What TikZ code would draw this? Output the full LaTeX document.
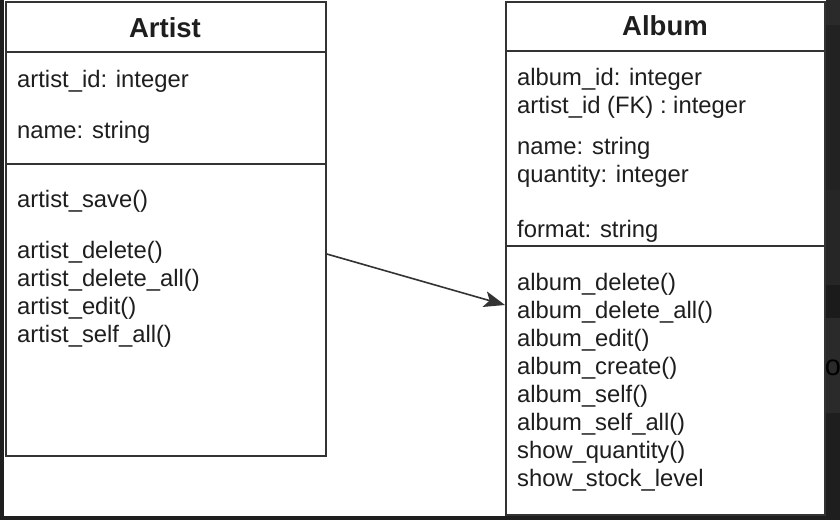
\documentclass[tikz,border=0pt]{standalone}
\usepackage{fontspec}
\setmainfont{Liberation Sans}
\usetikzlibrary{arrows.meta}
\definecolor{bgdark}{HTML}{1E1E1E}
\definecolor{bandA}{HTML}{2A2A2A}
\definecolor{bandB}{HTML}{222222}
\definecolor{bandC}{HTML}{262626}
\definecolor{bandD}{HTML}{1B1B1B}
\definecolor{linec}{HTML}{333333}
\definecolor{txt}{HTML}{1E1E1E}
\begin{document}
\begin{tikzpicture}[x=1pt,y=-1pt,
  boxline/.style={draw=linec, line width=1.8pt},
  umlbox/.style={boxline, fill=white, rectangle, inner sep=0pt, anchor=north west},
  attr/.style={anchor=base west, inner sep=0pt, font=\fontsize{23.8}{28}\selectfont, text=txt},
  ttl/.style={anchor=base, inner sep=0pt, font=\fontsize{27.5}{32}\selectfont\bfseries, text=txt},
  assoc/.style={draw=linec, line width=1.6pt, -{Stealth[length=21pt,width=16pt,inset=5pt]}}
]
\useasboundingbox (0,0) rectangle (840,520);
% screen background
\fill[bgdark] (0,0) rectangle (840,520);
\fill[bandA] (826,0) rectangle (840,25);
\fill[bandB] (826,25) rectangle (840,190);
\fill[bandC] (826,190) rectangle (840,285);
\fill[bandD] (826,285) rectangle (840,318);
\fill[bandA] (826,318) rectangle (840,413);
\node[inner sep=0pt, font=\fontsize{29}{32}\selectfont, text=black] (bgo) at (833,368) {o};
% canvas
\fill[white] (4,0) rectangle (826,516);

% Artist class
\node[umlbox, minimum width=320pt, minimum height=454pt] (artist) at (5,1) {};
\draw[boxline] (artist.west |- 0,52) -- (artist.east |- 0,52);
\draw[boxline] (artist.west |- 0,164) -- (artist.east |- 0,164);
\node[ttl] (artistT) at (165,37.5) {Artist};
\node[attr] (a1) at (17,87.5) {artist\_id: integer};
\node[attr] (a2) at (17,138.5) {name: string};
\node[attr] (m1) at (17,207) {artist\_save()};
\node[attr] (m2) at (17,258.7) {artist\_delete()};
\node[attr] (m3) at (17,286.7) {artist\_delete\_all()};
\node[attr] (m4) at (17,314.7) {artist\_edit()};
\node[attr] (m5) at (17,342.7) {artist\_self\_all()};

% Album class
\node[umlbox, minimum width=319pt, minimum height=513pt] (album) at (505,1) {};
\draw[boxline] (album.west |- 0,51) -- (album.east |- 0,51);
\draw[boxline] (album.west |- 0,246) -- (album.east |- 0,246);
\node[ttl] (albumT) at (665,35.5) {Album};
\node[attr] (b1) at (517,85) {album\_id: integer};
\node[attr] (b2) at (517,113.3) {artist\_id (FK) : integer};
\node[attr] (b3) at (517,154) {name: string};
\node[attr] (b4) at (517,182) {quantity: integer};
\node[attr] (b5) at (517,237.3) {format: string};
\node[attr] (c1) at (517,290.7) {album\_delete()};
\node[attr] (c2) at (517,318.6) {album\_delete\_all()};
\node[attr] (c3) at (517,346.5) {album\_edit()};
\node[attr] (c4) at (517,374.4) {album\_create()};
\node[attr] (c5) at (517,402.3) {album\_self()};
\node[attr] (c6) at (517,430.2) {album\_self\_all()};
\node[attr] (c7) at (517,458.1) {show\_quantity()};
\node[attr] (c8) at (517,486) {show\_stock\_level};

% association
\draw[assoc] (artist.east |- 0,254) -- (album.west |- 0,305);
\end{tikzpicture}
\end{document}
